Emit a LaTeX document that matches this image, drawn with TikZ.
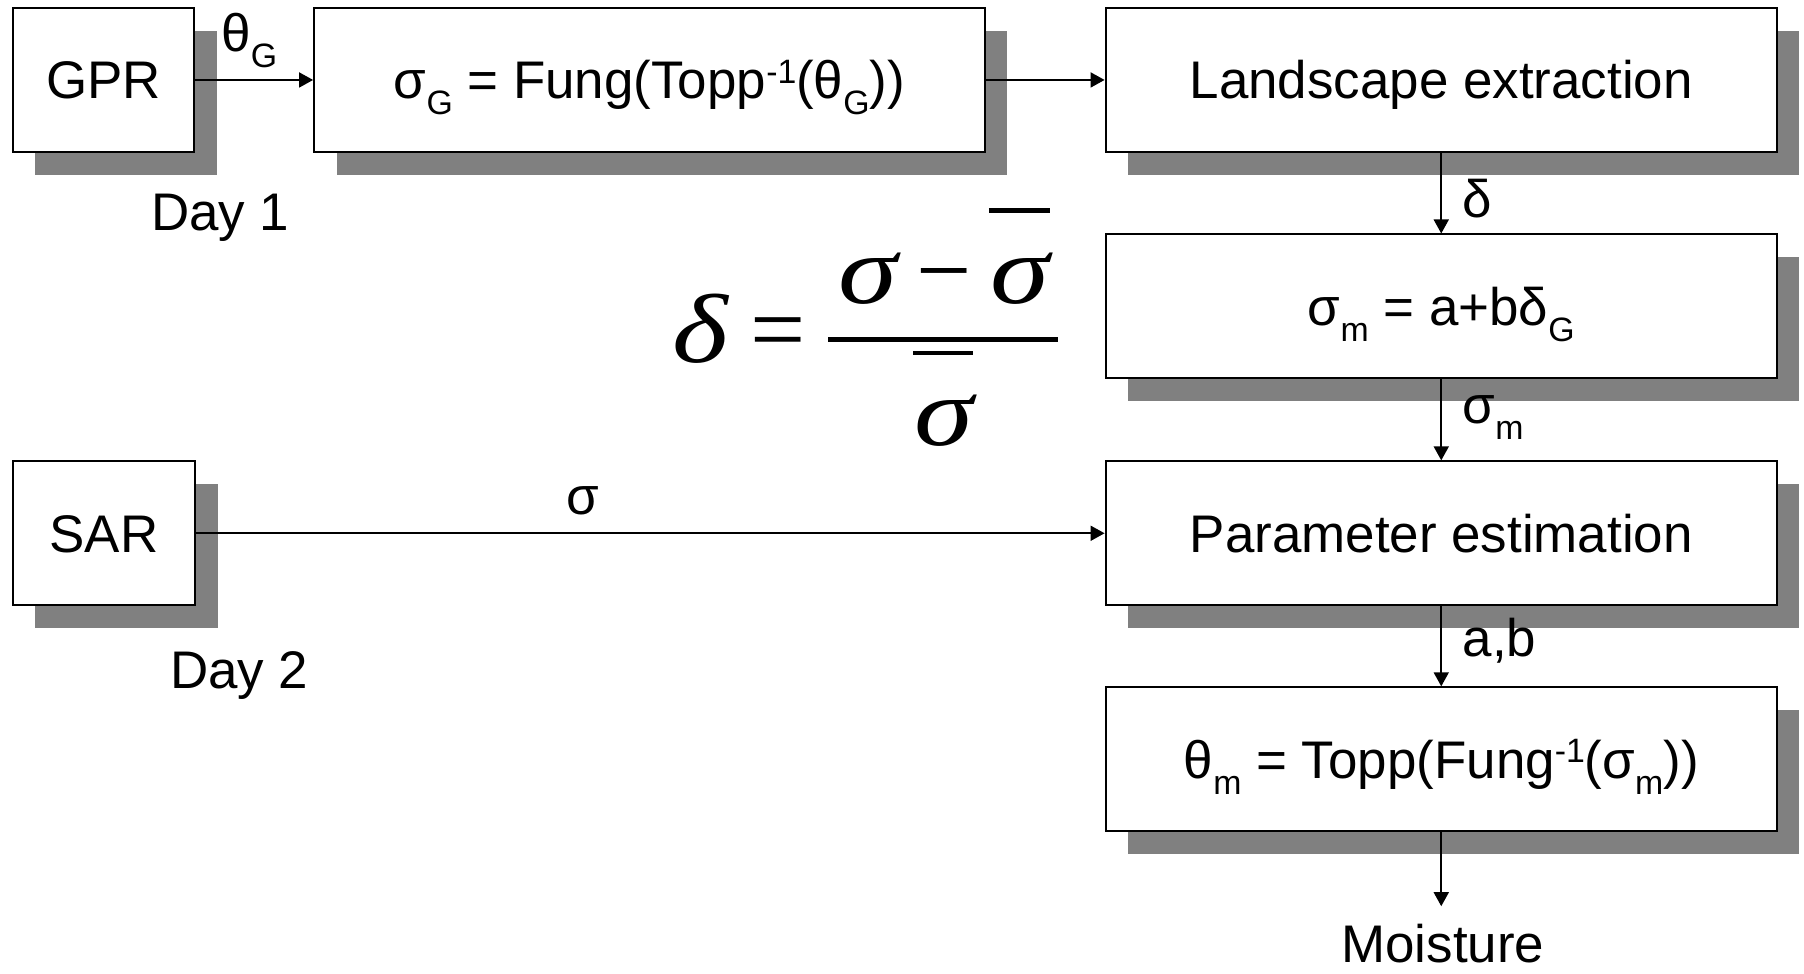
\documentclass[tikz,border=0pt]{standalone}
\usepackage{fontspec}
\setmainfont{Liberation Sans}
\newfontfamily\formfont{Liberation Serif}
\usetikzlibrary{arrows.meta,shadows}

\definecolor{shadowgray}{RGB}{128,128,128}

% lowered and raised indices for the box formulas
\newcommand\lowidx[1]{\raisebox{-0.3em}{\fontsize{14.7pt}{15pt}\selectfont #1}}
\newcommand\highidx[1]{\raisebox{0.3em}{\fontsize{14.7pt}{15pt}\selectfont #1}}
% broad italic glyph for the deviation formula
\newcommand\wideglyph[1]{\scalebox{1.22}[1]{#1}}

\tikzset{
  box/.style 2 args={draw, line width=0.85pt, fill=white, inner sep=0pt,
    minimum width={#1*0.5pt}, minimum height={#2*0.5pt},
    text height=16.47pt, text depth=0pt,
    drop shadow={shadow xshift=9.75pt, shadow yshift=-10pt,
      fill=shadowgray, opacity=1}},
  lbl/.style={inner sep=0pt, text height=16.47pt, text depth=0pt},
  arr/.style={line width=0.85pt, -{Triangle[length=6.1pt,width=6.5pt]}},
  frm/.style={inner sep=0pt, font=\formfont\itshape\fontsize{42.6pt}{50pt}\selectfont},
  frmup/.style={inner sep=0pt, font=\formfont\fontsize{42.6pt}{50pt}\selectfont},
  bar/.style={line width=1.95pt},
}

\begin{document}
\begin{tikzpicture}[x=0.5pt, y=-0.5pt, every node/.append style={font=\fontsize{23pt}{27pt}\selectfont}]
\useasboundingbox (0,0) rectangle (1568,846);

% processing boxes
\node[box={158}{125.5}] (gpr) at (90,69.5) {GPR};
\node[box={583}{125.5}] (fung) at (564.5,69.5) {σ\lowidx{G} = Fung(Topp\highidx{-1}(θ\lowidx{G}))};
\node[box={583.5}{125}] (land) at (1252.7,69.5) {Landscape extraction};
\node[box={583.5}{125}] (lin) at (1252.7,266.3) {σ\lowidx{m} = a+bδ\lowidx{G}};
\node[box={583.5}{125}] (param) at (1252.7,463.5) {Parameter estimation};
\node[box={583.5}{125}] (inv) at (1252.7,659.9) {θ\lowidx{m} = Topp(Fung\highidx{-1}(σ\lowidx{m}))};
\node[box={158.5}{125}] (sar) at (90.3,463.5) {SAR};

% free labels
\node[lbl, anchor=base] (day1) at (191.5,200) {Day 1};
\node[lbl, anchor=base] (day2) at (208,598) {Day 2};
\node[lbl, anchor=base] (moist) at (1254,837) {Moisture};

% connector labels
\node[lbl, anchor=base west] (lth) at (192,45) {θ\lowidx{G}};
\node[lbl, anchor=base west] (ldelta) at (1271,189) {δ};
\node[lbl, anchor=base west] (lsig) at (1271,368) {σ\lowidx{m}};
\node[lbl, anchor=base west] (lab) at (1271,570.8) {a,b};
\node[lbl, anchor=base] (lsar) at (507,447) {σ};

% connectors
\draw[arr] (gpr.east) -- (fung.west);
\draw[arr] (fung.east) -- (land.west);
\draw[arr] (land.south) -- (lin.north);
\draw[arr] (lin.south) -- (param.north);
\draw[arr] (sar.east) -- (param.west);
\draw[arr] (param.south) -- (inv.north);
\draw[arr, shorten >=8pt] (inv.south) -- (inv.south |- moist.north);

% normalised deviation formula
\node[frm, anchor=base] (fdelta) at (608.9,315.5) {\wideglyph{δ}};
\node[frmup, anchor=base] (feq) at (676,315.5) {=};
\node[frm, anchor=base] (fnum1) at (754,263.4) {\wideglyph{σ}};
\node[frmup, anchor=base] (fminus) at (820.5,263.4) {−};
\node[frm, anchor=base] (fnum2) at (886.6,263.4) {\wideglyph{σ}};
\node[frm, anchor=base] (fden) at (820.5,386.8) {\wideglyph{σ}};
\draw[bar] (719.7,295.1) -- (919.6,295.1);
\draw[bar] (859.6,183) -- (912.6,183);
\draw[bar] (793.6,306.8) -- (845.7,306.8);
\end{tikzpicture}
\end{document}
